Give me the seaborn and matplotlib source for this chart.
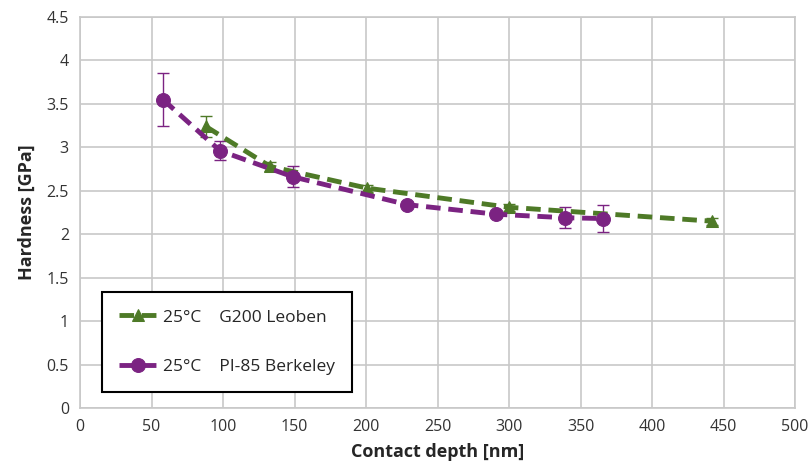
import numpy as np
import pandas as pd
import matplotlib
matplotlib.use("Agg")
import matplotlib.pyplot as plt
import seaborn as sns

# G200 Leoben
g200_depth = [88, 133, 201, 300, 442]
g200_hard = [3.24, 2.78, 2.53, 2.31, 2.15]
g200_err = [0.12, 0.05, 0.04, 0.04, 0.04]

# PI-85 Berkeley
pi85_depth = [58, 98, 149, 229, 291, 339, 366]
pi85_hard = [3.55, 2.96, 2.66, 2.34, 2.23, 2.19, 2.18]
pi85_err = [0.30, 0.11, 0.12, 0.03, 0.03, 0.12, 0.16]

green = '#4e7a27'
purple = '#7b2382'

sns.set_style('whitegrid')
plt.rcParams['font.family'] = ['Open Sans', 'DejaVu Sans']

fig = plt.figure(figsize=(8.1, 4.73), dpi=100)
ax = fig.add_axes([80 / 810, 1 - 408 / 473, 715 / 810, 391 / 473])

df_g = pd.DataFrame({'depth': g200_depth, 'hardness': g200_hard})
df_p = pd.DataFrame({'depth': pi85_depth, 'hardness': pi85_hard})

ax.errorbar(g200_depth, g200_hard, yerr=g200_err, fmt='none', ecolor=green,
            elinewidth=1, capsize=4, zorder=2)
ax.errorbar(pi85_depth, pi85_hard, yerr=pi85_err, fmt='none', ecolor=purple,
            elinewidth=1, capsize=4, zorder=2)

sns.lineplot(data=df_g, x='depth', y='hardness', ax=ax, color=green, lw=3.5,
             marker='^', markersize=9, markeredgecolor=green,
             linestyle=(0, (3, 1.6)), label='25°C    G200 Leoben', zorder=3)
sns.lineplot(data=df_p, x='depth', y='hardness', ax=ax, color=purple, lw=3.5,
             marker='o', markersize=10, markeredgecolor=purple,
             linestyle=(0, (3, 1.6)), label='25°C    PI-85 Berkeley', zorder=4)

ax.set_xlim(0, 500)
ax.set_ylim(0, 4.5)
ax.set_xticks(np.arange(0, 501, 50))
ax.set_yticks(np.arange(0, 4.51, 0.5))
ax.set_yticklabels(['0', '0.5', '1', '1.5', '2', '2.5', '3', '3.5', '4', '4.5'])
ax.tick_params(axis='both', labelsize=11.5, colors='#333333', length=0, pad=8)
ax.grid(True, color='#c8c8c8', lw=1.2)
for s in ax.spines.values():
    s.set_color('#c8c8c8')
    s.set_linewidth(1.2)

ax.set_xlabel('Contact depth [nm]', fontsize=13, fontweight='bold', labelpad=6)
ax.set_ylabel('Hardness [GPa]', fontsize=13, fontweight='bold', labelpad=8)

leg = ax.legend(loc='lower left', bbox_to_anchor=(22 / 715, 16 / 391), fontsize=12.5,
                frameon=True, fancybox=False, framealpha=1, borderpad=1.0,
                borderaxespad=0, labelspacing=1.9, handlelength=2.2,
                handletextpad=0.3)
leg.get_frame().set_edgecolor('#000000')
leg.get_frame().set_linewidth(1.5)

fig.savefig('out.png', dpi=100)
